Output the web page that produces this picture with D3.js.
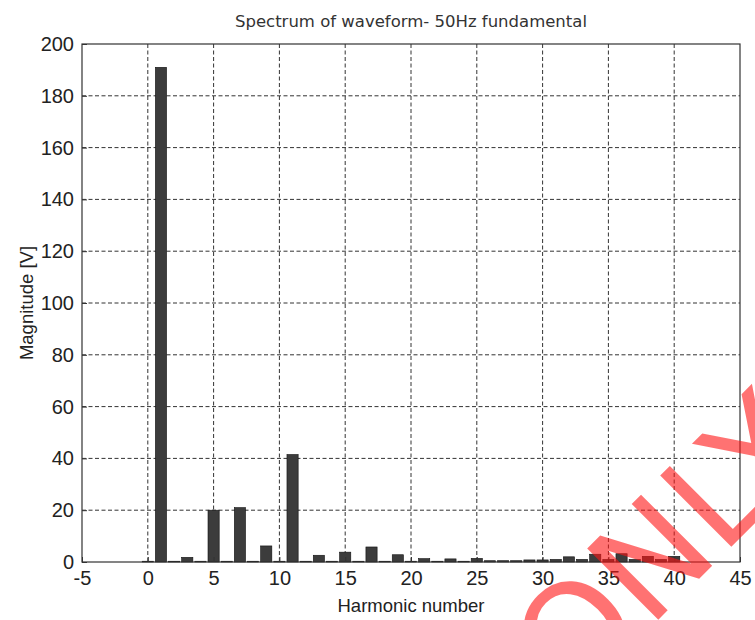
<!DOCTYPE html>
<html>
<head>
<meta charset="utf-8">
<script src="https://cdn.jsdelivr.net/npm/d3@7"></script>
<style>
  body { margin: 0; background: #fff; }
  svg { display: block; }
</style>
</head>
<body>
<svg id="chart" width="755" height="620"></svg>
<script>
// harmonic numbers and magnitudes
var harmonics = [0, 1, 2, 3, 4, 5, 6, 7, 8, 9, 10,
                 11, 12, 13, 14, 15, 16, 17, 18, 19, 20,
                 21, 22, 23, 24, 25, 26, 27, 28, 29, 30,
                 31, 32, 33, 34, 35, 36, 37, 38, 39, 40];
var magnitudes = [0.3, 191, 0.3, 1.8, 0.3, 20, 0.3, 21, 0.3, 6.2, 0.3,
                  41.5, 0.3, 2.6, 0.3, 3.8, 0.3, 5.8, 0.3, 2.8, 0.3,
                  1.3, 0.3, 1.2, 0.3, 1.4, 0.5, 0.5, 0.5, 0.8, 0.8,
                  1.0, 2.0, 1.0, 3.0, 1.0, 3.2, 1.0, 2.2, 1.0, 2.2];
var xTicks = [-5, 0, 5, 10, 15, 20, 25, 30, 35, 40, 45];
var yTicks = [0, 20, 40, 60, 80, 100, 120, 140, 160, 180, 200];

var margin = {top: 44, right: 15, bottom: 58, left: 82},
    width = 755 - margin.left - margin.right,
    height = 620 - margin.top - margin.bottom;

var x = d3.scaleLinear().domain([-5, 45]).range([0, width]);
var y = d3.scaleLinear().domain([0, 200]).range([height, 0]);

var svg = d3.select("#chart");
var g = svg.append("g")
    .attr("transform", "translate(" + margin.left + "," + margin.top + ")");

// dotted grid
g.append("g").selectAll("line")
    .data(xTicks.slice(1, -1))
    .enter().append("line")
    .attr("x1", function(d){ return x(d); })
    .attr("x2", function(d){ return x(d); })
    .attr("y1", 0)
    .attr("y2", height)
    .attr("stroke", "#333")
    .attr("stroke-width", 1)
    .attr("stroke-dasharray", "4,2.5");

g.append("g").selectAll("line")
    .data(yTicks.slice(1, -1))
    .enter().append("line")
    .attr("x1", 0)
    .attr("x2", width)
    .attr("y1", function(d){ return y(d); })
    .attr("y2", function(d){ return y(d); })
    .attr("stroke", "#333")
    .attr("stroke-width", 1)
    .attr("stroke-dasharray", "4,2.5");

// bars
var barW = x(0.85) - x(0);
g.selectAll(".bar")
    .data(harmonics)
    .enter().append("rect")
    .attr("class", "bar")
    .attr("x", function(d){ return x(d) - barW / 2; })
    .attr("y", function(d, i){ return y(magnitudes[i]); })
    .attr("width", barW)
    .attr("height", function(d, i){ return height - y(magnitudes[i]); })
    .attr("fill", "#3c3c3c")
    .attr("stroke", "#111")
    .attr("stroke-width", 0.6);

// axes (plain hyphen for negatives, like the original)
var fmt = function(d){ return String(d); };
var xAxis = d3.axisBottom(x).tickValues(xTicks).tickFormat(fmt)
    .tickSizeInner(-5).tickSizeOuter(0).tickPadding(9);
var yAxis = d3.axisLeft(y).tickValues(yTicks).tickFormat(fmt)
    .tickSizeInner(-5).tickSizeOuter(0).tickPadding(8);

g.append("g")
    .attr("transform", "translate(0," + height + ")")
    .call(xAxis)
    .call(function(s){ s.select(".domain").remove(); })
    .selectAll("text")
    .attr("fill", "#222")
    .style("font-family", "Liberation Sans")
    .style("font-size", "20px");

g.append("g")
    .call(yAxis)
    .call(function(s){ s.select(".domain").remove(); })
    .selectAll("text")
    .attr("fill", "#222")
    .style("font-family", "Liberation Sans")
    .style("font-size", "20px");

g.selectAll(".tick line").attr("stroke", "#333");

// box
g.append("rect")
    .attr("width", width)
    .attr("height", height)
    .attr("fill", "none")
    .attr("stroke", "#333")
    .attr("stroke-width", 1.2);

// titles
svg.append("text")
    .attr("x", margin.left + width / 2)
    .attr("y", 27)
    .attr("text-anchor", "middle")
    .style("font-family", "DejaVu Sans")
    .style("font-size", "16.5px")
    .attr("fill", "#333")
    .text("Spectrum of waveform- 50Hz fundamental");

svg.append("text")
    .attr("x", margin.left + width / 2)
    .attr("y", 612)
    .attr("text-anchor", "middle")
    .style("font-family", "Liberation Sans")
    .style("font-size", "18.5px")
    .attr("fill", "#222")
    .text("Harmonic number");

svg.append("text")
    .attr("transform", "translate(33," + (margin.top + height / 2) + ") rotate(-90)")
    .attr("text-anchor", "middle")
    .style("font-family", "Liberation Sans")
    .style("font-size", "18.5px")
    .attr("fill", "#222")
    .text("Magnitude [V]");

// stamp across the corner
svg.append("text")
    .attr("transform", "translate(572,706) rotate(-45)")
    .style("font-family", "DejaVu Sans")
    .style("font-size", "138px")
    .attr("fill", "rgb(255,20,20)")
    .attr("fill-opacity", 0.6)
    .text("ONLY");
</script>
</body>
</html>
